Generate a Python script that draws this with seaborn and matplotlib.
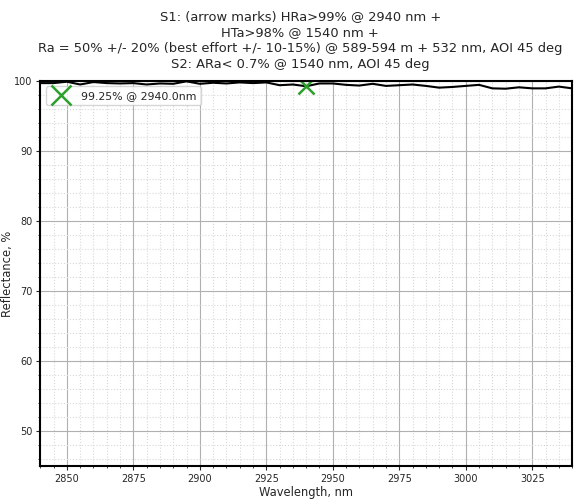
import numpy as np
import pandas as pd
import seaborn as sns
import matplotlib.pyplot as plt
from matplotlib.ticker import MultipleLocator

# Reflectance curve
wavelength = [2840, 2845, 2850, 2855, 2860, 2865, 2870, 2875, 2880, 2885,
              2890, 2895, 2900, 2905, 2910, 2915, 2920, 2925, 2930, 2935,
              2940, 2945, 2950, 2955, 2960, 2965, 2970, 2975, 2980, 2985,
              2990, 2995, 3000, 3005, 3010, 3015, 3020, 3025, 3030, 3035, 3040]
reflectance = [99.7, 99.7, 99.9, 99.5, 99.85, 99.7, 99.65, 99.7, 99.5, 99.65,
               99.6, 99.95, 99.6, 99.75, 99.65, 99.8, 99.7, 99.8, 99.4, 99.5,
               99.25, 99.65, 99.65, 99.45, 99.35, 99.6, 99.3, 99.4, 99.5, 99.3,
               99.05, 99.15, 99.3, 99.45, 98.95, 98.9, 99.1, 98.95, 98.95, 99.2, 98.95]

mark_wl = [2940.0]
mark_r = [99.25]

title = ("S1: (arrow marks) HRa>99% @ 2940 nm +\n"
         "HTa>98% @ 1540 nm +\n"
         "Ra = 50% +/- 20% (best effort +/- 10-15%) @ 589-594 m + 532 nm, AOI 45 deg\n"
         "S2: ARa< 0.7% @ 1540 nm, AOI 45 deg")

df = pd.DataFrame({"wl": wavelength, "R": reflectance})

sns.set_style("white")
fig = plt.figure(figsize=(5.75, 5.0), dpi=100)
ax = fig.add_axes([0.07, 0.068, 0.925, 0.77])

sns.lineplot(data=df, x="wl", y="R", color="black", linewidth=1.5, ax=ax)
ax.plot(mark_wl, mark_r, linestyle="none", marker="x", color="#2ca02c",
        markersize=11, markeredgewidth=1.8,
        label=f"{mark_r[0]:.2f}% @ {mark_wl[0]:.1f}nm")

ax.set_xlim(2840, 3040)
ax.set_ylim(45, 100)
ax.xaxis.set_major_locator(MultipleLocator(25))
ax.xaxis.set_minor_locator(MultipleLocator(5))
ax.yaxis.set_major_locator(MultipleLocator(10))
ax.yaxis.set_minor_locator(MultipleLocator(2))
ax.grid(which="major", color="#b0b0b0", linewidth=0.8)
ax.grid(which="minor", color="#d8d8d8", linestyle=":", linewidth=0.8)
ax.tick_params(which="both", direction="out", left=True, bottom=True,
               labelsize=7, pad=2.5)
ax.tick_params(which="major", length=3)
ax.tick_params(which="minor", length=1.6)
for s in ax.spines.values():
    s.set_color("black")
    s.set_linewidth(1.5)

ax.set_xlabel("Wavelength, nm", fontsize=8.3, labelpad=2)
ax.set_ylabel("Reflectance, %", fontsize=8.3, labelpad=0.5)
ax.set_title(title, fontsize=9.4, linespacing=1.3, pad=9, x=0.489)
ax.legend(loc="upper left", fontsize=7.9, markerscale=1.25)

fig.savefig("out.png", dpi=100)
